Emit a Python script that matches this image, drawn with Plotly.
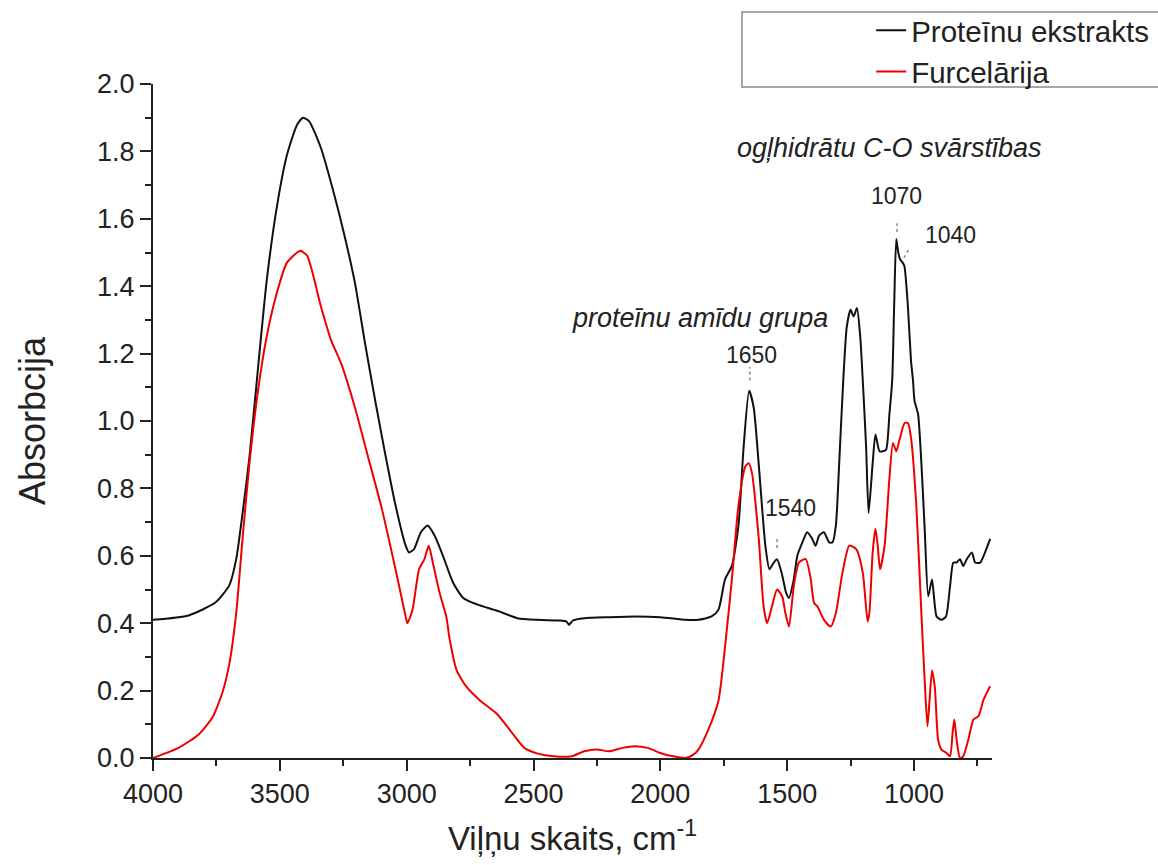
import plotly.graph_objects as go

# ---- data ----
protein_wn = [4000, 3860, 3753, 3699, 3672, 3646, 3619, 3586, 3552, 3512,
              3472, 3432, 3409, 3385, 3338, 3285, 3245, 3204, 3164, 3124,
              3084, 3044, 3004, 2991, 2971, 2944, 2917, 2890, 2857, 2817,
              2777, 2723, 2643, 2563, 2483, 2400, 2370, 2360, 2345, 2300,
              2200, 2100, 2000, 1900, 1850, 1798, 1771, 1745, 1718, 1692,
              1672, 1650, 1632, 1612, 1586, 1570, 1553, 1540, 1522, 1504,
              1493, 1474, 1460, 1440, 1421, 1401, 1388, 1374, 1355, 1335,
              1321, 1308, 1295, 1279, 1265, 1250, 1238, 1225, 1212, 1202,
              1189, 1179, 1163, 1152, 1136, 1123, 1110, 1097, 1086, 1078,
              1070, 1062, 1055, 1045, 1038, 1025, 1012, 1004, 998, 984,
              971, 958, 944, 929, 911, 892, 874, 858, 845, 832,
              819, 806, 792, 772, 759, 739, 720, 700]
protein_abs = [0.41, 0.423, 0.462, 0.513, 0.59, 0.732, 0.899, 1.157, 1.415, 1.634,
               1.789, 1.879, 1.90, 1.89, 1.81, 1.67, 1.55, 1.41, 1.23, 1.06,
               0.90, 0.75, 0.63, 0.61, 0.62, 0.67, 0.69, 0.66, 0.60, 0.52,
               0.475, 0.456, 0.437, 0.415, 0.41, 0.408, 0.405, 0.395, 0.408, 0.415,
               0.418, 0.42, 0.418, 0.41, 0.41, 0.42, 0.44, 0.53, 0.57, 0.69,
               0.92, 1.09, 1.04, 0.87, 0.63, 0.56, 0.58, 0.59, 0.55, 0.49,
               0.475, 0.53, 0.60, 0.64, 0.67, 0.65, 0.63, 0.66, 0.67, 0.64,
               0.64, 0.69, 0.875, 1.12, 1.28, 1.33, 1.31, 1.335, 1.25, 1.12,
               0.925, 0.727, 0.875, 0.96, 0.91, 0.91, 0.915, 1.02, 1.12, 1.35,
               1.54, 1.50, 1.48, 1.47, 1.46, 1.35, 1.18, 1.12, 1.06, 1.02,
               0.875, 0.68, 0.48, 0.53, 0.42, 0.41, 0.42, 0.51, 0.58, 0.58,
               0.59, 0.57, 0.59, 0.61, 0.58, 0.58, 0.61, 0.65]

furcel_wn = [4000, 3900, 3820, 3766, 3726, 3699, 3672, 3646, 3619, 3586,
             3552, 3512, 3472, 3432, 3418, 3392, 3338, 3298, 3258, 3204,
             3151, 3098, 3044, 3004, 2997, 2977, 2951, 2930, 2913, 2897,
             2870, 2844, 2830, 2803, 2763, 2710, 2643, 2590, 2536, 2483,
             2420, 2350, 2300, 2250, 2200, 2150, 2100, 2050, 2000, 1950,
             1900, 1870, 1850, 1811, 1771, 1745, 1718, 1692, 1665, 1652,
             1639, 1612, 1593, 1579, 1560, 1540, 1520, 1507, 1493, 1474,
             1454, 1427, 1407, 1394, 1381, 1355, 1328, 1308, 1282, 1255,
             1228, 1202, 1183, 1176, 1163, 1152, 1143, 1134, 1116, 1097,
             1083, 1070, 1057, 1037, 1024, 1011, 991, 971, 958, 947,
             938, 929, 918, 905, 892, 872, 858, 848, 841, 832,
             819, 806, 786, 766, 746, 726, 700]
furcel_abs = [0.0, 0.03, 0.07, 0.12, 0.195, 0.28, 0.43, 0.66, 0.88, 1.09,
              1.25, 1.38, 1.47, 1.50, 1.505, 1.49, 1.34, 1.24, 1.17, 1.04,
              0.89, 0.74, 0.56, 0.42, 0.40, 0.44, 0.56, 0.59, 0.63, 0.58,
              0.49, 0.42, 0.35, 0.26, 0.21, 0.17, 0.13, 0.08, 0.03, 0.013,
              0.005, 0.005, 0.02, 0.025, 0.02, 0.03, 0.035, 0.03, 0.015, 0.005,
              0.0, 0.01, 0.025, 0.084, 0.17, 0.33, 0.53, 0.75, 0.865, 0.875,
              0.846, 0.65, 0.45, 0.40, 0.45, 0.50, 0.48, 0.43, 0.39, 0.51,
              0.58, 0.59, 0.53, 0.46, 0.45, 0.41, 0.39, 0.43, 0.55, 0.63,
              0.62, 0.55, 0.405, 0.43, 0.61, 0.68, 0.63, 0.56, 0.63, 0.83,
              0.935, 0.91, 0.945, 0.994, 0.994, 0.945, 0.75, 0.43, 0.23, 0.094,
              0.18, 0.26, 0.21, 0.054, 0.025, 0.015, 0.005, 0.074, 0.114, 0.054,
              0.0, 0.005, 0.054, 0.114, 0.124, 0.173, 0.213]

series_names = ["Proteīnu ekstrakts", "Furcelārija"]
series_colors = ["#111111", "#ee0000"]

x_tickvals = [4000, 3500, 3000, 2500, 2000, 1500, 1000]
y_tickvals = [0.0, 0.2, 0.4, 0.6, 0.8, 1.0, 1.2, 1.4, 1.6, 1.8, 2.0]

# peak labels: (text, x, y) and marker ticks (x0, y0, x1, y1)
peak_labels = [("1070", 1071, 1.668), ("1040", 858, 1.552),
               ("1650", 1639, 1.196), ("1540", 1485, 0.742)]
peak_marks = [(1067, 1.561, 1067, 1.587), (1040, 1.484, 1022, 1.507),
              (1647, 1.12, 1647, 1.16), (1540, 0.623, 1540, 0.656)]
group_labels = [("ogļhidrātu C-O svārstības", 1095, 1.81),
                ("proteīnu amīdu grupa", 1844, 1.306)]

FONT = "Liberation Sans, Arial, sans-serif"

fig = go.Figure()
fig.add_trace(go.Scatter(x=protein_wn, y=protein_abs, mode="lines",
                         name=series_names[0],
                         line=dict(color=series_colors[0], width=2,
                                   shape="spline", smoothing=0.6)))
fig.add_trace(go.Scatter(x=furcel_wn, y=furcel_abs, mode="lines",
                         name=series_names[1],
                         line=dict(color=series_colors[1], width=2,
                                   shape="spline", smoothing=0.6)))

for txt, x, y in peak_labels:
    fig.add_annotation(x=x, y=y, xref="x", yref="y", text=txt, showarrow=False,
                       font=dict(family=FONT, size=23, color="#222"))
for txt, x, y in group_labels:
    fig.add_annotation(x=x, y=y, xref="x", yref="y", text="<i>" + txt + "</i>",
                       showarrow=False, font=dict(family=FONT, size=27, color="#222"))
for x0, y0, x1, y1 in peak_marks:
    fig.add_shape(type="line", xref="x", yref="y", x0=x0, y0=y0, x1=x1, y1=y1,
                  line=dict(color="#888888", width=1.5, dash="dot"))

# legend frame
fig.add_shape(type="rect", xref="paper", yref="paper",
              x0=0.702, y0=0.9955, x1=1.21, y1=1.1068,
              line=dict(color="#8a8a8a", width=1.5), fillcolor="rgba(0,0,0,0)")

fig.update_layout(
    width=1158, height=865,
    margin=dict(l=153, r=166, t=84, b=107, autoexpand=False),
    paper_bgcolor="white", plot_bgcolor="white",
    font=dict(family=FONT, color="#222"),
    showlegend=True,
    legend=dict(x=0.856, y=1.118, xanchor="left", yanchor="top",
                bgcolor="rgba(0,0,0,0)", borderwidth=0,
                font=dict(family=FONT, size=29.5, color="#222"),
                tracegroupgap=0),
    xaxis=dict(range=[4000, 692.6], tickvals=x_tickvals,
               ticktext=[str(v) for v in x_tickvals],
               showgrid=False, zeroline=False, showline=True,
               linecolor="#222", linewidth=2, ticks="outside", ticklen=11,
               tickwidth=2, tickcolor="#222",
               minor=dict(dtick=250, tick0=0, ticks="outside", ticklen=6,
                          tickwidth=2, tickcolor="#222", showgrid=False),
               tickfont=dict(family=FONT, size=27, color="#222"),
               title=dict(text="Viļņu skaits, cm<sup>-1</sup>",
                          font=dict(family=FONT, size=33, color="#222"),
                          standoff=18)),
    yaxis=dict(range=[0, 2.0], tickvals=y_tickvals,
               ticktext=["%.1f" % v for v in y_tickvals],
               showgrid=False, zeroline=False, showline=True,
               linecolor="#222", linewidth=2, ticks="outside", ticklen=11,
               tickwidth=2, tickcolor="#222",
               minor=dict(dtick=0.1, tick0=0, ticks="outside", ticklen=6,
                          tickwidth=2, tickcolor="#222", showgrid=False),
               tickfont=dict(family=FONT, size=27, color="#222"),
               title=dict(text="Absorbcija",
                          font=dict(family=FONT, size=36, color="#222"),
                          standoff=40)),
)

fig.write_html("out.html")
